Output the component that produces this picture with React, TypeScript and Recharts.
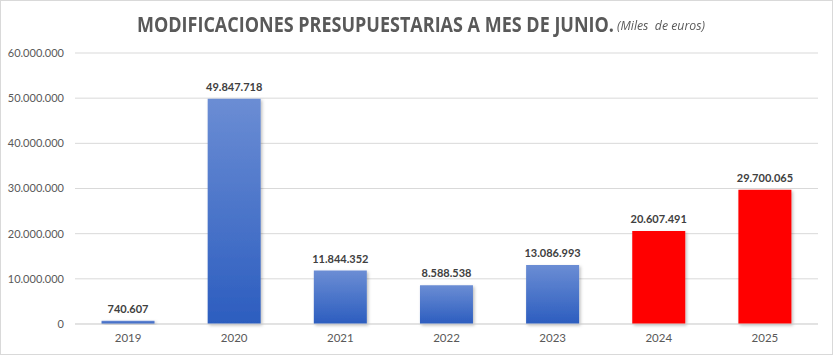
import React from "react";
import { BarChart, Bar, XAxis, YAxis, CartesianGrid, Cell, LabelList } from "recharts";

const years = ["2019", "2020", "2021", "2022", "2023", "2024", "2025"];
const values = [740607, 49847718, 11844352, 8588538, 13086993, 20607491, 29700065];
const highlighted = [false, false, false, false, false, true, true];
const yTicks = [0, 10000000, 20000000, 30000000, 40000000, 50000000, 60000000];
const titleMain = "MODIFICACIONES PRESUPUESTARIAS A MES DE JUNIO.";
const titleSub = "(Miles  de euros)";

const data = years.map((y, i) => ({ year: y, value: values[i], hl: highlighted[i] }));

const fmt = (v: number) => String(Math.round(v)).replace(/\B(?=(\d{3})+(?!\d))/g, ".");

const FONT = "Lato, 'Open Sans', sans-serif";
const TFONT = "'Open Sans', sans-serif";

function measure(text: string, font: string): number {
  try {
    const c = document.createElement("canvas");
    const ctx = c.getContext("2d");
    if (!ctx) return 0;
    ctx.font = font;
    return ctx.measureText(text).width;
  } catch (e) {
    return 0;
  }
}

function Squeezed({ text, left, top, width, size, weight, italic }: any) {
  const font = `${italic ? "italic " : ""}${weight} ${size}px ${TFONT}`;
  const w = measure(text, font);
  const k = w > 0 ? width / w : 1;
  return (
    <div
      style={{
        position: "absolute",
        left,
        top,
        display: "inline-block",
        whiteSpace: "pre",
        fontFamily: TFONT,
        fontSize: size,
        fontWeight: weight,
        fontStyle: italic ? "italic" : "normal",
        lineHeight: `${size}px`,
        color: "#595959",
        transform: `scaleX(${k})`,
        transformOrigin: "0 0",
      }}
    >
      {text}
    </div>
  );
}

export default function App() {
  return (
    <div style={{ position: "absolute", left: 0, top: 0, width: 833, height: 355, background: "#fff", fontFamily: FONT }}>
      <div style={{ position: "absolute", left: 0, top: 0, width: 831, height: 353, border: "1px solid #d9d9d9" }} />
      <Squeezed text={titleMain} left={137} top={13.5} width={477} size={21} weight={700} />
      <Squeezed text={titleSub} left={617} top={19} width={88} size={13} weight={400} italic />
      <div style={{ position: "absolute", left: 0, top: 0 }}>
        <BarChart width={833} height={355} data={data} margin={{ top: 53, right: 15, bottom: 0, left: 0 }} barCategoryGap="25%">
          <defs>
            <linearGradient id="blueGrad" x1="0" y1="0" x2="0" y2="1">
              <stop offset="0%" stopColor="#6b8dd4" />
              <stop offset="100%" stopColor="#2c5dbf" />
            </linearGradient>
            <filter id="shadow" x="-20%" y="-20%" width="140%" height="140%">
              <feDropShadow dx="1.5" dy="1.5" stdDeviation="1.5" floodColor="#000" floodOpacity="0.25" />
            </filter>
          </defs>
          <CartesianGrid vertical={false} stroke="#d9d9d9" />
          <XAxis
            dataKey="year"
            height={31}
            tickLine={false}
            axisLine={{ stroke: "#d9d9d9" }}
            tick={{ fill: "#595959", fontSize: 11.5, fontFamily: FONT }}
            tickMargin={4}
          />
          <YAxis
            width={75}
            domain={[0, 60000000]}
            ticks={yTicks}
            tickFormatter={fmt}
            tickLine={false}
            axisLine={false}
            tickSize={0}
            tickMargin={11}
            tick={{ fill: "#595959", fontSize: 11, fontFamily: FONT }}
            interval={0}
          />
          <Bar dataKey="value" isAnimationActive={false} filter="url(#shadow)">
            {data.map((d, i) => (
              <Cell key={i} fill={d.hl ? "#ff0000" : "url(#blueGrad)"} />
            ))}
            <LabelList
              dataKey="value"
              position="top"
              offset={8}
              formatter={(v: any) => fmt(Number(v))}
              style={{ fill: "#404040", fontSize: 11, fontWeight: 700, fontFamily: FONT }}
            />
          </Bar>
        </BarChart>
      </div>
    </div>
  );
}
